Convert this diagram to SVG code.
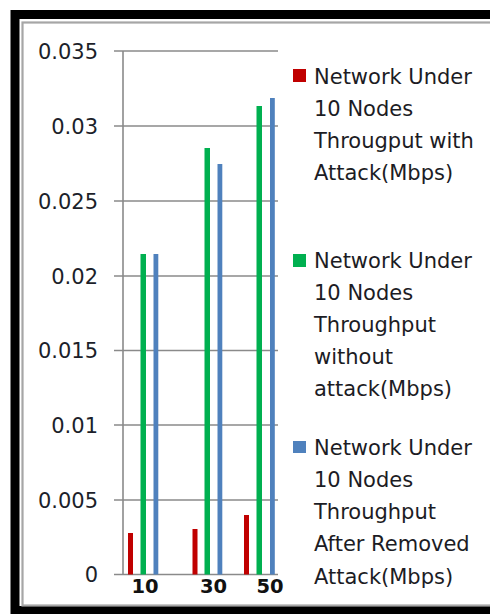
<svg xmlns="http://www.w3.org/2000/svg" width="490" height="614" viewBox="0 0 490 614">
  <style>
    .grid { stroke: #8a8a8a; stroke-width: 1.6; fill: none; }
    .ylab { font-family: "DejaVu Sans", "Liberation Sans", sans-serif; font-size: 21px; fill: #1c1f2a; text-anchor: end; }
    .xlab { font-family: "DejaVu Sans", "Liberation Sans", sans-serif; font-size: 19.5px; font-weight: bold; fill: #111; text-anchor: middle; }
    .leg { font-family: "DejaVu Sans", "Liberation Sans", sans-serif; font-size: 21px; fill: #1c1c24; }
    .red { fill: #c00000; }
    .green { fill: #00b050; }
    .blue { fill: #4f81bd; }
  </style>

  <!-- page background -->
  <rect x="0" y="0" width="490" height="614" fill="#ffffff"/>

  <!-- outer frame: thick black border with a thin grey inner rule -->
  <g id="frame">
    <rect x="15" y="14.5" width="490" height="596" fill="none" stroke="#000" stroke-width="9"/>
    <rect x="22.5" y="22.5" width="480" height="583" fill="none" stroke="#a6a6a6" stroke-width="2.2"/>
  </g>

  <!-- value axis, gridlines and ticks -->
  <g id="axes">
    <line class="grid" x1="114" y1="51" x2="278" y2="51"/>
    <line class="grid" x1="114" y1="126" x2="278" y2="126"/>
    <line class="grid" x1="114" y1="201" x2="278" y2="201"/>
    <line class="grid" x1="114" y1="276" x2="278" y2="276"/>
    <line class="grid" x1="114" y1="350.5" x2="278" y2="350.5"/>
    <line class="grid" x1="114" y1="425" x2="278" y2="425"/>
    <line class="grid" x1="114" y1="500" x2="278" y2="500"/>
    <line class="grid" x1="114" y1="574.5" x2="278" y2="574.5"/>
    <line class="grid" x1="123" y1="51" x2="123" y2="575"/>
  </g>

  <g id="y-labels">
    <text class="ylab" x="98" y="59">0.035</text>
    <text class="ylab" x="98" y="134">0.03</text>
    <text class="ylab" x="98" y="209">0.025</text>
    <text class="ylab" x="98" y="284">0.02</text>
    <text class="ylab" x="98" y="358">0.015</text>
    <text class="ylab" x="98" y="433">0.01</text>
    <text class="ylab" x="98" y="508">0.005</text>
    <text class="ylab" x="98" y="582">0</text>
  </g>

  <!-- series: with attack (red), without attack (green), after removed attack (blue) -->
  <g id="bars">
    <rect class="red" x="128" y="533" width="5" height="41.5"/>
    <rect class="green" x="140.5" y="254" width="5.5" height="320.5"/>
    <rect class="blue" x="153.5" y="254" width="4.8" height="320.5"/>

    <rect class="red" x="192.5" y="529" width="5" height="45.5"/>
    <rect class="green" x="204.5" y="148" width="5.5" height="426.5"/>
    <rect class="blue" x="217.5" y="164" width="4.8" height="410.5"/>

    <rect class="red" x="244" y="515" width="5" height="59.5"/>
    <rect class="green" x="256.5" y="106" width="5.5" height="468.5"/>
    <rect class="blue" x="270" y="98" width="4.8" height="476.5"/>
  </g>

  <g id="x-labels">
    <text class="xlab" x="145" y="593">10</text>
    <text class="xlab" x="213.5" y="593">30</text>
    <text class="xlab" x="270" y="593">50</text>
  </g>

  <g id="legend-attack">
    <rect class="red" x="293" y="69" width="13" height="13"/>
    <text class="leg" x="314" y="84">Network Under</text>
    <text class="leg" x="314" y="116">10 Nodes</text>
    <text class="leg" x="314" y="148">Througput with</text>
    <text class="leg" x="314" y="180">Attack(Mbps)</text>
  </g>

  <g id="legend-no-attack">
    <rect class="green" x="293" y="254" width="13" height="13"/>
    <text class="leg" x="314" y="268">Network Under</text>
    <text class="leg" x="314" y="300">10 Nodes</text>
    <text class="leg" x="314" y="332">Throughput</text>
    <text class="leg" x="314" y="364">without</text>
    <text class="leg" x="314" y="396">attack(Mbps)</text>
  </g>

  <g id="legend-removed">
    <rect class="blue" x="293" y="441" width="13" height="12"/>
    <text class="leg" x="314" y="455">Network Under</text>
    <text class="leg" x="314" y="487">10 Nodes</text>
    <text class="leg" x="314" y="519">Throughput</text>
    <text class="leg" x="314" y="551">After Removed</text>
    <text class="leg" x="314" y="584">Attack(Mbps)</text>
  </g>
</svg>
